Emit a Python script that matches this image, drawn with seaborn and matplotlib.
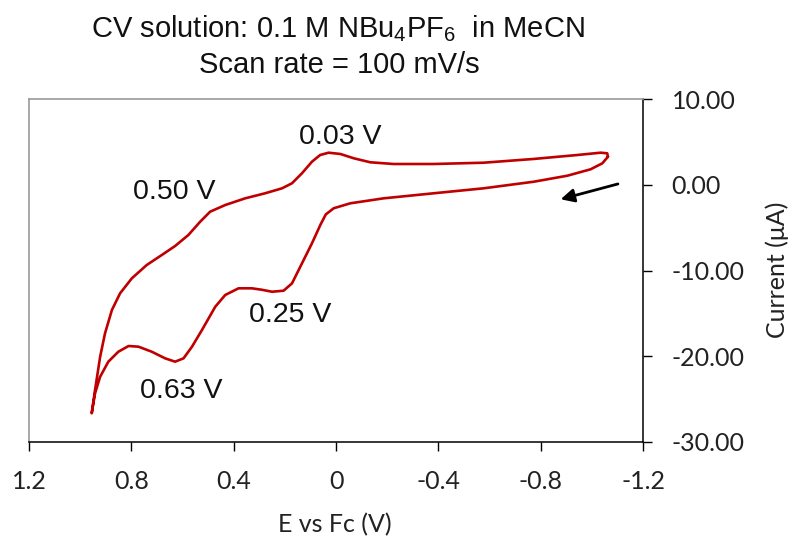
import matplotlib
matplotlib.use("Agg")
import matplotlib.pyplot as plt
import seaborn as sns
import pandas as pd

# Cyclic voltammogram: forward scan (from the negative limit towards positive potential)
fwd_E = [-1.063, -1.041, -0.995, -0.904, -0.773, -0.577, -0.382, -0.186, -0.056, 0.009,
         0.040, 0.060, 0.094, 0.133, 0.172, 0.205, 0.250, 0.290, 0.329, 0.381,
         0.433, 0.472, 0.524, 0.563, 0.596, 0.629, 0.668, 0.720, 0.772, 0.811,
         0.851, 0.890, 0.922, 0.942, 0.955]
fwd_I = [3.29, 2.52, 1.82, 1.07, 0.37, -0.40, -0.98, -1.57, -2.15, -2.73,
         -3.45, -4.60, -6.82, -9.16, -11.50, -12.36, -12.48, -12.25, -12.08, -12.08,
         -12.86, -14.23, -16.95, -18.90, -20.26, -20.65, -20.26, -19.49, -18.90, -18.82,
         -19.49, -20.65, -22.41, -24.35, -26.68]

# Reverse scan (from the positive limit back to the negative limit)
rev_E = [0.955, 0.942, 0.922, 0.903, 0.876, 0.844, 0.798, 0.740, 0.681, 0.629,
         0.577, 0.531, 0.492, 0.433, 0.355, 0.277, 0.211, 0.172, 0.133, 0.094,
         0.062, 0.029, -0.017, -0.069, -0.134, -0.225, -0.382, -0.577, -0.773, -0.943,
         -1.034, -1.060, -1.063]
rev_I = [-26.68, -23.96, -20.07, -17.34, -14.61, -12.66, -10.91, -9.36, -8.19, -7.14,
         -5.85, -4.30, -3.13, -2.35, -1.57, -0.98, -0.40, 0.19, 1.36, 2.71,
         3.49, 3.76, 3.61, 3.11, 2.64, 2.44, 2.44, 2.59, 3.03, 3.49,
         3.76, 3.69, 3.29]

# Peak labels
peak_text = ["0.03 V", "0.50 V", "0.25 V", "0.63 V"]
peak_E = [-0.017, 0.631, 0.179, 0.605]
peak_I = [4.78, -1.65, -16.05, -24.93]

x_ticks = [1.2, 0.8, 0.4, 0.0, -0.4, -0.8, -1.2]
x_tick_labels = ["1.2", "0.8", "0.4", "0", "-0.4", "-0.8", "-1.2"]
y_ticks = [10, 0, -10, -20, -30]
y_tick_labels = ["10.00", "0.00", "-10.00", "-20.00", "-30.00"]

cv = pd.DataFrame({
    "E": fwd_E + rev_E,
    "I": fwd_I + rev_I,
})

sns.set_theme(style="white")
plt.rcParams["font.family"] = ["Lato", "DejaVu Sans"]
plt.rcParams["mathtext.fontset"] = "custom"
plt.rcParams["mathtext.rm"] = "Liberation Sans"
plt.rcParams["mathtext.it"] = "Liberation Sans:italic"
plt.rcParams["mathtext.bf"] = "Liberation Sans:bold"

fig = plt.figure(figsize=(7.91, 5.41), dpi=100)
ax = fig.add_axes([0.0367, 0.1835, 0.7762, 0.633])

sns.lineplot(data=cv, x="E", y="I", sort=False, estimator=None, color="#c00000",
             linewidth=1.9, ax=ax)
for line in ax.get_lines():
    line.set_solid_joinstyle("round")
    line.set_solid_capstyle("round")

ax.set_xlim(1.2, -1.2)
ax.set_ylim(-30, 10)

ax.set_xticks(x_ticks)
ax.set_xticklabels(x_tick_labels)
ax.set_yticks(y_ticks)
ax.set_yticklabels(y_tick_labels)

ax.yaxis.tick_right()
ax.yaxis.set_label_position("right")
ax.tick_params(axis="both", which="major", direction="out", length=6.5, width=1.0,
               color="black", labelsize=18, labelcolor="#222222", pad=14,
               bottom=True, right=True, left=False, top=False)

for side in ("top", "left"):
    ax.spines[side].set_color("#9a9a9a")
    ax.spines[side].set_linewidth(1.2)
for side in ("bottom", "right"):
    ax.spines[side].set_color("black")
    ax.spines[side].set_linewidth(1.1)

ax.set_xlabel("E vs Fc (V)", fontsize=18, color="#222222")
ax.set_ylabel("Current (μA)", fontsize=18, color="#222222", rotation=90)
ax.xaxis.set_label_coords(0.498, -0.243)
ax.xaxis.label.set_va("center")
ax.yaxis.set_label_coords(1.218, 0.501)
ax.yaxis.label.set_va("center")
ax.yaxis.label.set_ha("center")

for txt, e, i in zip(peak_text, peak_E, peak_I):
    ax.text(e, i, txt, ha="center", va="baseline", fontsize=20.5,
            family=["Liberation Sans", "DejaVu Sans"], color="#111111")

# Scan direction arrow
ax.annotate("", xy=(-0.878, -1.68), xytext=(-1.102, 0.11),
            arrowprops=dict(arrowstyle="-|>", color="black", lw=2.0,
                            mutation_scale=20, shrinkA=0, shrinkB=0))

fig.text(0.427, 0.931, r"CV solution: 0.1 M NBu$_4$PF$_6$  in MeCN",
         ha="center", va="baseline", fontsize=21,
         family=["Liberation Sans", "DejaVu Sans"], color="#111111")
fig.text(0.429, 0.8645, "Scan rate = 100 mV/s",
         ha="center", va="baseline", fontsize=21,
         family=["Liberation Sans", "DejaVu Sans"], color="#111111")

fig.savefig("out.png", dpi=100, facecolor="white")
